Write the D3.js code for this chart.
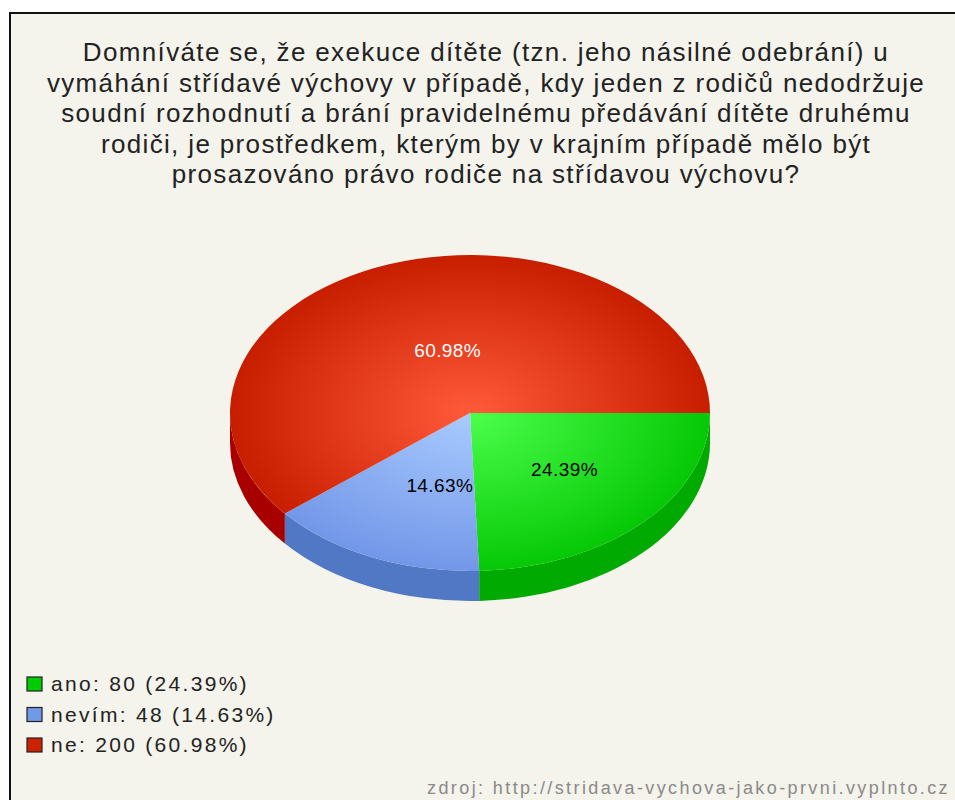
<!DOCTYPE html>
<html lang="cs">
  <head>
    <meta charset="UTF-8">
    <title>Pie</title>
    <style>
      body { margin: 0; background: #fff; }
      text { font-family: "Liberation Sans", Arial, sans-serif; }
    </style>
  </head>
  <body>
    <div id="chart"></div>
    <script src="https://d3js.org/d3.v7.min.js"></script>
    <script>
      // data
      let categories = ["ano", "nevím", "ne"];
      let counts = [80, 48, 200];
      let titleLines = [
        "Domníváte se, že exekuce dítěte (tzn. jeho násilné odebrání) u",
        "vymáhání střídavé výchovy v případě, kdy jeden z rodičů nedodržuje",
        "soudní rozhodnutí a brání pravidelnému předávání dítěte druhému",
        "rodiči, je prostředkem, kterým by v krajním případě mělo být",
        "prosazováno právo rodiče na střídavou výchovu?"
      ];
      let sourceText = "zdroj: http://stridava-vychova-jako-prvni.vyplnto.cz";

      // colours per slice
      let topLight = ["#4cff4c", "#a9cbff", "#ff5a3a"];
      let topDark = ["#06c806", "#7397e8", "#c81e00"];
      let sideColor = ["#00aa00", "#5078c4", "#a80000"];
      let legendColor = ["#00cc00", "#6f9ae8", "#cc2200"];
      let labelColor = ["#000", "#000", "#fff"];

      let width = 955;
      let height = 800;
      let cx = 470, cy = 413, rx = 240, ry = 158, depth = 30;

      let svg = d3.select("#chart").append("svg").attr("width", width).attr("height", height);

      // frame (only top and left edge visible)
      svg.append("rect")
        .attr("x", 10).attr("y", 13)
        .attr("width", 1000).attr("height", 1000)
        .attr("fill", "#f4f3ec")
        .attr("stroke", "#111")
        .attr("stroke-width", 2);

      // title
      svg.append("g").selectAll("text")
        .data(titleLines)
        .enter()
        .append("text")
        .attr("x", 486)
        .attr("y", (d, i) => 61 + i * 30.5)
        .attr("text-anchor", "middle")
        .attr("font-size", 26)
        .attr("letter-spacing", 1.35)
        .attr("fill", "#222")
        .text(d => d);

      let total = d3.sum(counts);
      let fmt = d3.format(".2f");
      let pct = counts.map(c => fmt(c / total * 100) + "%");

      let pie = d3.pie().sort(null).startAngle(Math.PI / 2).endAngle(Math.PI / 2 + 2 * Math.PI);
      let slices = pie(counts);

      function pt(a, r, dy) {
        return [cx + rx * r * Math.sin(a), cy - ry * r * Math.cos(a) + (dy || 0)];
      }

      function topPath(d) {
        let p0 = pt(d.startAngle, 1), p1 = pt(d.endAngle, 1);
        let large = d.endAngle - d.startAngle > Math.PI ? 1 : 0;
        return "M" + cx + "," + cy + "L" + p0 + "A" + rx + "," + ry + " 0 " + large + " 1 " + p1 + "Z";
      }

      function sidePath(d) {
        let s = Math.max(d.startAngle, Math.PI / 2);
        let e = Math.min(d.endAngle, 3 * Math.PI / 2);
        if (s >= e) return null;
        return "M" + pt(s, 1) + "A" + rx + "," + ry + " 0 0 1 " + pt(e, 1) +
          "L" + pt(e, 1, depth) + "A" + rx + "," + ry + " 0 0 0 " + pt(s, 1, depth) + "Z";
      }

      let defs = svg.append("defs");
      categories.forEach(function(c, i) {
        let g = defs.append("radialGradient")
          .attr("id", "grad" + i)
          .attr("gradientUnits", "userSpaceOnUse")
          .attr("cx", cx).attr("cy", cy).attr("r", rx)
          .attr("gradientTransform", "translate(0," + cy + ") scale(1," + (ry / rx) + ") translate(0," + (-cy) + ")");
        g.append("stop").attr("offset", "0%").attr("stop-color", topLight[i]);
        g.append("stop").attr("offset", "100%").attr("stop-color", topDark[i]);
      });

      // sides
      svg.append("g").selectAll("path")
        .data(slices.filter(d => sidePath(d)))
        .enter()
        .append("path")
        .attr("d", sidePath)
        .style("fill", d => sideColor[d.index]);

      // top faces
      svg.append("g").selectAll("path")
        .data(slices)
        .enter()
        .append("path")
        .attr("d", topPath)
        .style("fill", d => "url(#grad" + d.index + ")");

      // slice labels
      let labelR = 0.46;
      svg.append("g").selectAll("text")
        .data(slices)
        .enter()
        .append("text")
        .attr("x", d => pt((d.startAngle + d.endAngle) / 2, labelR)[0] + 15)
        .attr("y", d => pt((d.startAngle + d.endAngle) / 2, labelR)[1] + 12.5)
        .attr("text-anchor", "middle")
        .attr("font-size", 19)
        .attr("letter-spacing", 0.4)
        .attr("fill", d => labelColor[d.index])
        .text(d => pct[d.index]);

      // legend
      let legend = svg.append("g").selectAll("g")
        .data(categories)
        .enter()
        .append("g")
        .attr("transform", (d, i) => "translate(27," + (691 + i * 30.5) + ")");
      legend.append("rect")
        .attr("x", 0).attr("y", -14)
        .attr("width", 15).attr("height", 14)
        .attr("fill", (d, i) => legendColor[i])
        .attr("stroke", "#222")
        .attr("stroke-width", 1.2);
      legend.append("text")
        .attr("x", 24).attr("y", 0)
        .attr("font-size", 21)
        .attr("letter-spacing", 2.3)
        .attr("fill", "#222")
        .text((d, i) => d + ": " + counts[i] + " (" + pct[i] + ")");

      // source
      svg.append("text")
        .attr("x", 950).attr("y", 794)
        .attr("text-anchor", "end")
        .attr("font-size", 18)
        .attr("letter-spacing", 2.4)
        .attr("fill", "#8a8a8a")
        .text(sourceText);
    </script>
  </body>
</html>
